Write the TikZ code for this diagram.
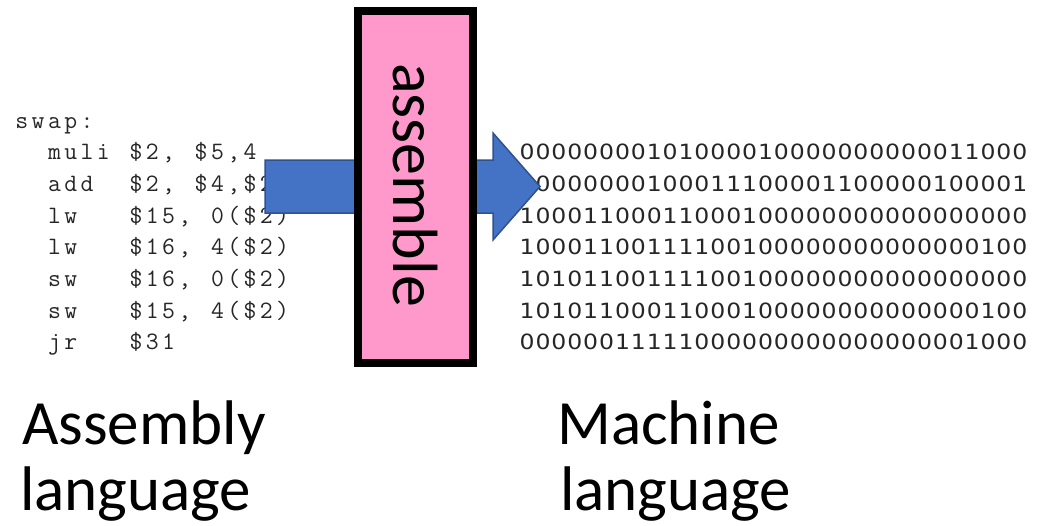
\documentclass[tikz,border=0pt]{standalone}
\usepackage{fontspec}
\setmainfont{Carlito}
\newfontfamily\binfont[FakeStretch=1.12]{DejaVu Sans}
\definecolor{pinkfill}{HTML}{FF99CC}
\definecolor{arrowfill}{HTML}{4472C4}
\definecolor{arrowline}{HTML}{2F528F}
\definecolor{bintext}{HTML}{262626}
\newlength\cellw
\newcommand\mono[2]{\setlength\cellw{#1}\monoloop#2\relax}
\def\monoloop#1{\ifx\relax#1\else\makebox[\cellw][c]{#1}\expandafter\monoloop\fi}
\tikzset{
  codeline/.style={anchor=base west, inner sep=0pt, text=bintext, font=\ttfamily\fontsize{25}{25}\selectfont},
  binline/.style={anchor=base west, inner sep=0pt, text=bintext, font=\binfont\fontsize{21}{21}\selectfont},
  biglabel/.style={anchor=base west, inner sep=0pt, font=\fontsize{63}{72}\selectfont},
  blockarrow/.style={fill=arrowfill, draw=arrowline, line width=1.5pt, line join=miter},
  stepbox/.style={draw=black, line width=8pt, fill=pinkfill, minimum width=115pt, minimum height=352pt, inner sep=0pt}
}
\begin{document}
\begin{tikzpicture}[x=1pt,y=-1pt]
\path[use as bounding box] (0,0) rectangle (1047,525);
% assembly code
\node[codeline] (c0) at (13.5,128) {\mono{16.3pt}{swap:}};
\node[codeline] (c1) at (13.5,159.7) {\mono{16.3pt}{~~muli~\$2,~\$5,4}};
\node[codeline] (c2) at (13.5,191.4) {\mono{16.3pt}{~~add~~\$2,~\$4,\$2}};
\node[codeline] (c3) at (13.5,223.1) {\mono{16.3pt}{~~lw~~~\$15,~0(\$2)}};
\node[codeline] (c4) at (13.5,254.8) {\mono{16.3pt}{~~lw~~~\$16,~4(\$2)}};
\node[codeline] (c5) at (13.5,286.5) {\mono{16.3pt}{~~sw~~~\$16,~0(\$2)}};
\node[codeline] (c6) at (13.5,318.2) {\mono{16.3pt}{~~sw~~~\$15,~4(\$2)}};
\node[codeline] (c7) at (13.5,349.9) {\mono{16.3pt}{~~jr~~~\$31}};
% machine code
\node[binline] (b1) at (519,159.7) {\mono{15.9pt}{00000000101000010000000000011000}};
\node[binline] (b2) at (519,191.4) {\mono{15.9pt}{00000000100011100001100000100001}};
\node[binline] (b3) at (519,223.1) {\mono{15.9pt}{10001100011000100000000000000000}};
\node[binline] (b4) at (519,254.8) {\mono{15.9pt}{10001100111100100000000000000100}};
\node[binline] (b5) at (519,286.5) {\mono{15.9pt}{10101100111100100000000000000000}};
\node[binline] (b6) at (519,318.2) {\mono{15.9pt}{10101100011000100000000000000100}};
\node[binline] (b7) at (519,349.9) {\mono{15.9pt}{00000011111000000000000000001000}};
% block arrow
\draw[blockarrow] (265,160) -- (493,160) -- (493,133) -- (540,186.5) -- (493,240) -- (493,213) -- (265,213) -- cycle;
% assemble box
\node[stepbox] (asm) at (415.5,187) {};
\node[rotate=-90, anchor=base, inner sep=0pt, font=\fontsize{64}{64}\selectfont] (asmlbl) at (393,185) {assemble};
% labels
\node[biglabel] (al1) at (22,444) {Assembly};
\node[biglabel] (al2) at (20,510) {language};
\node[biglabel] (ml1) at (557,444) {Machine};
\node[biglabel] (ml2) at (560,510) {language};
\end{tikzpicture}
\end{document}
